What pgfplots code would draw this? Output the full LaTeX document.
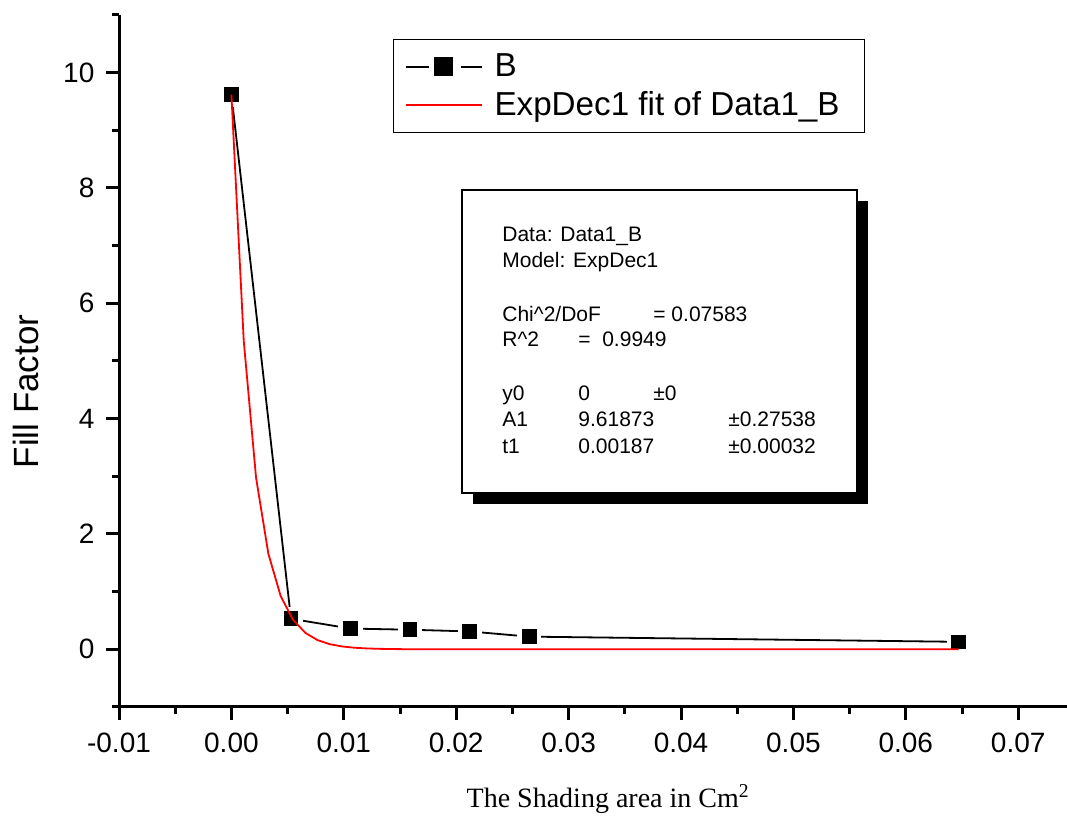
\documentclass[border=0pt]{standalone}
\usepackage{fontspec}
\setmainfont{Liberation Sans}
\newfontfamily\timesfont{Liberation Serif}
\usepackage{pgfplots}
\pgfplotsset{compat=1.18}

% measured data (x in cm^2)
\pgfplotstableread{
x       y
0.0     9.62
0.0053  0.53
0.0106  0.36
0.0159  0.34
0.0212  0.31
0.0265  0.22
0.0647  0.13
}\datab

% ExpDec1 fit curve
\pgfplotstableread{
x          y
0.0        9.6187
0.0010966  5.3510
0.0021932  2.9768
0.0032898  1.6560
0.0043864  0.9213
0.0054830  0.5125
0.0065796  0.2851
0.0076762  0.1586
0.0087728  0.0882
0.0098694  0.0491
0.0109660  0.0273
0.0120626  0.0152
0.0131592  0.0085
0.0142558  0.0047
0.0153524  0.0026
0.0164490  0.0015
0.0200000  0.0
0.0647000  0.0
}\fitb

\begin{document}
\begin{tikzpicture}[x=0.5pt,y=0.5pt]
\begin{axis}[
    name=ax, set layers,
    at={(59.5pt,55.5pt)}, anchor=south west,
    scale only axis, width=474pt, height=346pt,
    xmin=-0.01, xmax=0.07434, ymin=-1, ymax=11,
    axis x line=bottom, axis y line=left,
    axis line style={-, line width=1.5pt},
    tick style={line width=1.5pt, black},
    tick align=outside,
    major tick length=6.5pt, minor tick length=3.5pt,
    xtick={-0.01,0,0.01,0.02,0.03,0.04,0.05,0.06,0.07},
    minor xtick={-0.005,0.005,0.015,0.025,0.035,0.045,0.055,0.065},
    ytick={0,2,4,6,8,10},
    minor ytick={-1,1,3,5,7,9,11},
    scaled x ticks=false,
    /pgf/number format/assume math mode=true,
    xticklabel style={font=\fontsize{14}{16}\selectfont, yshift=-2.8pt,
        /pgf/number format/.cd, fixed, fixed zerofill, precision=2},
    yticklabel style={font=\fontsize{14}{16}\selectfont, xshift=-2.3pt},
    xlabel={\timesfont The Shading area in Cm\textsuperscript{2}},
    xlabel style={font=\fontsize{14}{16}\selectfont,
        at={(axis description cs:0.516,0)}, anchor=base, yshift=-50.5pt},
    ylabel={Fill Factor},
    ylabel style={font=\fontsize{17.5}{20}\selectfont,
        at={(axis description cs:0,0.456)}, anchor=base, yshift=40pt},
    legend style={at={(axis description cs:0.289,0.9653)}, anchor=north west,
        draw=black, line width=0.75pt, font=\fontsize{16.6}{19}\selectfont,
        inner xsep=5.5pt, inner ysep=4.5pt, row sep=1pt,
        nodes={inner sep=2.5pt}},
    legend cell align=left,
]
% black connecting line, with white gaps round the markers
\addplot[black, line width=0.9pt, forget plot] table[x=x,y=y]{\datab};
\addplot[white, only marks, mark=square*, mark size=5.8pt,
    mark options={fill=white, draw=white, line width=0pt}, forget plot] table[x=x,y=y]{\datab};
\addplot[black, only marks, mark=square*, mark size=3.4pt,
    mark options={fill=black, draw=black, line width=0pt}, forget plot] table[x=x,y=y]{\datab};
% fit curve, above the markers
\addplot[red, line width=0.9pt, forget plot, on layer=axis foreground] table[x=x,y=y]{\fitb};

\addlegendimage{legend image code/.code={
    \draw[black, line width=0.9pt] (0pt,0pt)--(11.5pt,0pt) (27.5pt,0pt)--(38pt,0pt);
    \fill[black] (14.5pt,-4.5pt) rectangle (23.5pt,4.5pt);}}
\addlegendentry{\hspace{3.5pt}B}
\addlegendimage{legend image code/.code={
    \draw[red, line width=0.9pt] (0pt,0pt)--(38pt,0pt);}}
\addlegendentry{\hspace{3.5pt}ExpDec1 fit of Data1\_B\kern4.5pt}
\end{axis}

% fit report box with drop shadow
\fill[black] (473,314) rectangle (868,617);
\draw[black, line width=0.75pt, fill=white] (462,325) rectangle (857,628);
\begin{scope}[every node/.style={anchor=base west, inner sep=0pt,
    font=\fontsize{10.5}{12}\selectfont}]
\node at (502,576) {Data: Data1\_B};
\node at (502,550) {Model: ExpDec1};
\node at (502,496) {Chi\textasciicircum2/DoF};
\node at (653,496) {= 0.07583};
\node at (502,471) {R\textasciicircum2};
\node at (578,471) {=\ \ 0.9949};
\node at (502,417) {y0};
\node at (578,417) {0};
\node at (653,417) {±0};
\node at (502,391) {A1};
\node at (578,391) {9.61873};
\node at (728,391) {±0.27538};
\node at (502,364) {t1};
\node at (578,364) {0.00187};
\node at (728,364) {±0.00032};
\end{scope}

\pgfresetboundingbox
\path (0,0) rectangle (1067,818);
\end{tikzpicture}
\end{document}
